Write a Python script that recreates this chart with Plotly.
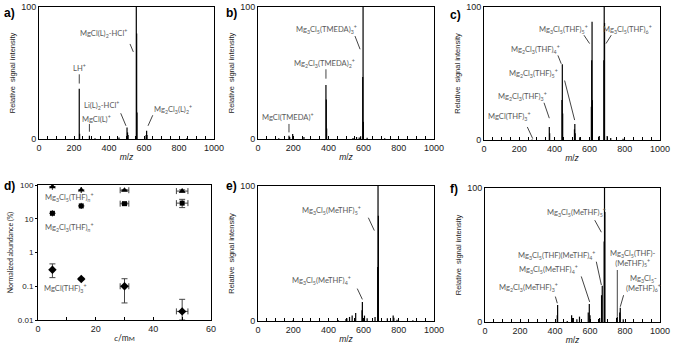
import math
import plotly.graph_objects as go

W, H = 673, 349

# ---- spectra (m/z, relative intensity %) ----
a_mz = [230, 232, 288, 320, 457, 503, 506, 509, 556, 558, 560, 612, 615, 617, 845]
a_int = [38, 4, 2.5, 0.6, 1.2, 8.8, 5, 3, 100, 80, 20, 3, 6.3, 3, 0.6]

b_mz = [118, 176, 180, 197, 261, 386, 388, 390, 540, 560, 575, 583, 595, 597, 599, 620, 720]
b_int = [0.5, 2.5, 1.5, 3.8, 1.5, 41, 30, 8, 0.8, 1.5, 1.2, 2, 47, 100, 13, 1, 0.5]

c_mz = [273, 371, 373, 443, 445, 447, 514, 516, 518, 544, 610, 612, 614, 616, 655,
        681, 683, 685, 700, 720, 790]
c_int = [0.4, 9.8, 5, 30, 57, 20, 8, 12, 5, 2, 25, 60, 89, 30, 3,
         60, 100, 88, 3, 1.5, 1]

e_mz = [200, 455, 500, 505, 520, 535, 555, 591, 593, 605, 620, 665, 680, 682, 684,
        735, 768, 772, 790, 880]
e_int = [0.8, 0.8, 1.5, 2, 3, 4, 6, 8, 14, 4, 2, 3, 40, 100, 78,
         2, 4, 2.5, 1, 0.5]

f_mz = [413, 415, 470, 495, 500, 505, 525, 540, 590, 596, 600, 655, 666, 670, 681, 683, 685,
        752, 756, 770, 773, 790]
f_int = [5, 12.7, 0.8, 5, 3, 3, 2, 4, 7, 13.4, 5, 3, 20, 27, 60, 100, 82,
         3, 4, 7, 10.7, 2]

# ---- panel d: normalized abundance vs concentration ----
conc = [5, 15, 30, 50]
conc_err = [0, 0, 1.5, 2]
mg3 = [89, 71, 70, 66]
mg3_err = [0, 0, 3, 6]
mg2 = [14.5, 24, 28, 29]
mg2_err_up = [0, 0, 2, 8.6]
mg2_err_dn = [0, 0, 2, 7.6]
mgcl = [0.31, 0.165, 0.10, 0.018]
mgcl_err_up = [0.15, 0.01, 0.067, 0.023]
mgcl_err_dn = [0.13, 0.01, 0.068, 0.008]

# plot-area boxes in pixels: left, right, top, bottom
boxes = {
    1: (39, 214, 7, 139),
    2: (258, 434, 7, 139),
    3: (484, 660, 7, 140),
    4: (38, 211, 185, 320),
    5: (258, 434, 186, 321),
    6: (485, 660, 188, 322),
}

GREY = "#5a5a5a"
LBL_FONT = dict(family="Lato, Open Sans, sans-serif", size=7.6, color=GREY)
AX_FONT = dict(family="Liberation Sans, Arial, sans-serif", size=9, color="#222")

# labels: (text, text x, text y, line x0, y0, x1, y1)
labels = {
    1: [
        ("MgCl(L)<sub>2</sub>-HCl<sup>+</sup>", 371, 80, 520, 72, 539, 66),
        ("LH<sup>+</sup>", 229, 54, 230, 49, 230, 42),
        ("Li(L)<sub>2</sub>-HCl<sup>+</sup>", 358, 25.5, 467, 19.5, 497, 10),
        ("MgCl(L)<sup>+</sup>", 330, 15.2, 288, 11.4, 288, 5.5),
        ("Mg<sub>2</sub>Cl<sub>3</sub>(L)<sub>2</sub><sup>+</sup>", 768, 22.5, 650, 18, 623, 10),
    ],
    2: [
        ("Mg<sub>3</sub>Cl<sub>5</sub>(TMEDA)<sub>3</sub><sup>+</sup>", 390, 83, 551, 78, 580, 68),
        ("Mg<sub>2</sub>Cl<sub>3</sub>(TMEDA)<sub>2</sub><sup>+</sup>", 377, 57, 386, 52.8, 386, 45.7),
        ("MgCl(TMEDA)<sup>+</sup>", 172, 16.4, 176, 11.4, 176, 5),
    ],
    3: [
        ("Mg<sub>3</sub>Cl<sub>5</sub>(THF)<sub>5</sub><sup>+</sup>", 453, 83, 568, 78.8, 600, 72.5),
        ("Mg<sub>3</sub>Cl<sub>5</sub>(THF)<sub>6</sub><sup>+</sup>", 814, 83, 723, 78.8, 693, 72.5),
        ("Mg<sub>2</sub>Cl<sub>3</sub>(THF)<sub>4</sub><sup>+</sup>", 292, 68, 420, 63.6, 439, 57.3),
        ("Mg<sub>2</sub>Cl<sub>3</sub>(THF)<sub>5</sub><sup>+</sup>", 284, 50, 458, 44.7, 515, 15),
        ("Mg<sub>2</sub>Cl<sub>3</sub>(THF)<sub>3</sub><sup>+</sup>", 216, 33, 341, 28, 371, 16.4),
        ("MgCl(THF)<sub>3</sub><sup>+</sup>", 146, 18, 246, 9.8, 277, 1),
    ],
    5: [
        ("Mg<sub>3</sub>Cl<sub>5</sub>(MeTHF)<sub>5</sub><sup>+</sup>", 419, 82, 627, 76.5, 661, 67),
        ("Mg<sub>3</sub>Cl<sub>5</sub>(MeTHF)<sub>4</sub><sup>+</sup>", 362, 30, 564, 24, 593, 16),
    ],
    6: [
        ("Mg<sub>3</sub>Cl<sub>5</sub>(MeTHF)<sub>5</sub><sup>+</sup>", 522, 82, 627, 76, 665, 67),
        ("Mg<sub>3</sub>Cl<sub>5</sub>(THF)(MeTHF)<sub>4</sub><sup>+</sup>", 408, 50, 636, 45, 665, 27.6),
        ("Mg<sub>3</sub>Cl<sub>5</sub>(MeTHF)<sub>4</sub><sup>+</sup>", 360, 39, 550, 34, 598, 15),
        ("Mg<sub>2</sub>Cl<sub>3</sub>(MeTHF)<sub>3</sub><sup>+</sup>", 246, 26, 402, 19, 413, 14),
        ("Mg<sub>3</sub>Cl<sub>5</sub>(THF)-<br>(MeTHF)<sub>5</sub><sup>+</sup>", 846, 48, 756, 38.8, 756, 4),
        ("Mg<sub>3</sub>Cl<sub>5</sub>-<br>(MeTHF)<sub>6</sub><sup>+</sup>", 903, 29, 792, 20, 773, 11.4),
    ],
}

spectra = {1: (a_mz, a_int), 2: (b_mz, b_int), 3: (c_mz, c_int),
           5: (e_mz, e_int), 6: (f_mz, f_int)}

letters = [("a)", 2, 13), ("b)", 224, 13), ("c)", 448, 15),
           ("d)", 2, 186), ("e)", 224, 186), ("f)", 448, 189)]

fig = go.Figure()
layout = dict(width=W, height=H, margin=dict(l=0, r=0, t=0, b=0, autoexpand=False),
              paper_bgcolor="white", plot_bgcolor="white", showlegend=False)
annotations = []
shapes = []


def sfx(i):
    return "" if i == 1 else str(i)


for i, (l, r, t, b) in boxes.items():
    xd = [l / W, r / W]
    yd = [1 - b / H, 1 - t / H]
    common = dict(showline=True, linecolor="black", linewidth=1, mirror=True,
                  showgrid=False, zeroline=False, tickfont=AX_FONT, anchor="y" + sfx(i))
    if i != 4:
        layout["xaxis" + sfx(i)] = dict(
            domain=xd, range=[0, 1000], tickvals=[0, 200, 400, 600, 800, 1000],
            ticks="inside", ticklen=3, tickcolor="black",
            minor=dict(dtick=50, ticks="inside", ticklen=3, tickcolor="black"),
            title=dict(text="<i>m</i>/<i>z</i>", font=dict(family="Liberation Sans, Arial", size=8.5, color="#222"), standoff=2),
            **common)
        layout["yaxis" + sfx(i)] = dict(
            domain=yd, range=[0, 100], tickvals=[0, 100], ticks="",
            showline=True, linecolor="black", linewidth=1, mirror=True,
            showgrid=False, zeroline=False, tickfont=AX_FONT, anchor="x" + sfx(i),
            title=dict(text="Relative  signal intensity", font=dict(family="Liberation Sans, Arial", size=7.5, color="#222"), standoff=4))
        mz, inten = spectra[i]
        xs, ys = [], []
        for m, v in zip(mz, inten):
            xs += [m, m, None]
            ys += [0, v, None]
        fig.add_trace(go.Scatter(x=xs, y=ys, mode="lines", line=dict(color="black", width=1.2),
                                 xaxis="x" + sfx(i), yaxis="y" + sfx(i), hoverinfo="skip"))
        for txt, tx, ty, x0, y0, x1, y1 in labels[i]:
            annotations.append(dict(text=txt, x=tx, y=ty, xref="x" + sfx(i), yref="y" + sfx(i),
                                    showarrow=False, font=LBL_FONT, align="center"))
            shapes.append(dict(type="line", x0=x0, y0=y0, x1=x1, y1=y1,
                               xref="x" + sfx(i), yref="y" + sfx(i),
                               line=dict(color="#444", width=1)))
    else:
        layout["xaxis4"] = dict(
            domain=xd, range=[0, 60], tickvals=[0, 20, 40, 60],
            ticks="inside", ticklen=3, tickcolor="black",
            minor=dict(dtick=10, ticks="inside", ticklen=3, tickcolor="black"),
            title=dict(text="<i>c</i>/m<span style='font-size:6.5px'>M</span>",
                       font=dict(family="Lato, sans-serif", size=8.5, color="#222"), standoff=2),
            **common)
        layout["yaxis4"] = dict(
            domain=yd, type="log", range=[-2, 2],
            tickvals=[0.01, 0.1, 1, 10, 100], ticktext=["0.01", "0.1", "1", "10", "100"],
            ticks="outside", ticklen=2, tickcolor="black",
            showline=True, linecolor="black", linewidth=1, mirror=True,
            showgrid=False, zeroline=False, anchor="x4",
            tickfont=dict(family="Liberation Sans, Arial", size=8, color="#222"),
            title=dict(text="Normalized abundance (%)", font=dict(family="Lato, sans-serif", size=7, color="#222"), standoff=3))

series_d = [
    (mg3, mg3_err, mg3_err, "triangle-up", 6),
    (mg2, mg2_err_up, mg2_err_dn, "square", 5),
    (mgcl, mgcl_err_up, mgcl_err_dn, "diamond", 6.5),
]
for yv, eu, ed, sym, sz in series_d:
    fig.add_trace(go.Scatter(
        x=conc, y=yv, mode="markers", xaxis="x4", yaxis="y4",
        marker=dict(symbol=sym, size=sz, color="black"),
        error_y=dict(type="data", array=eu, arrayminus=ed, color="#444", thickness=1, width=3),
        error_x=dict(type="data", array=conc_err, color="#444", thickness=1, width=3),
        hoverinfo="skip"))

d_labels = [
    ("Mg<sub>3</sub>Cl<sub>5</sub>(THF)<sub><i>n</i></sub><sup>+</sup>", 10.9, 42.7),
    ("Mg<sub>2</sub>Cl<sub>3</sub>(THF)<sub><i>n</i></sub><sup>+</sup>", 10.9, 5.4),
    ("MgCl(THF)<sub>3</sub><sup>+</sup>", 9.4, 0.083),
]
for txt, tx, ty in d_labels:
    annotations.append(dict(text=txt, x=tx, y=math.log10(ty), xref="x4", yref="y4",
                            showarrow=False, font=LBL_FONT))

for txt, px, py in letters:
    annotations.append(dict(text="<b>" + txt + "</b>", x=px / W, y=1 - py / H, xref="paper", yref="paper",
                            xanchor="left", yanchor="middle", showarrow=False,
                            font=dict(family="Liberation Sans, Arial", size=12, color="black")))

layout["annotations"] = annotations
layout["shapes"] = shapes
fig.update_layout(**layout)

# page body has a default 8px margin; drop it so the figure fills the window
fig.write_html("out.html", config={"displayModeBar": False},
               post_script="document.body.style.margin='0';")
